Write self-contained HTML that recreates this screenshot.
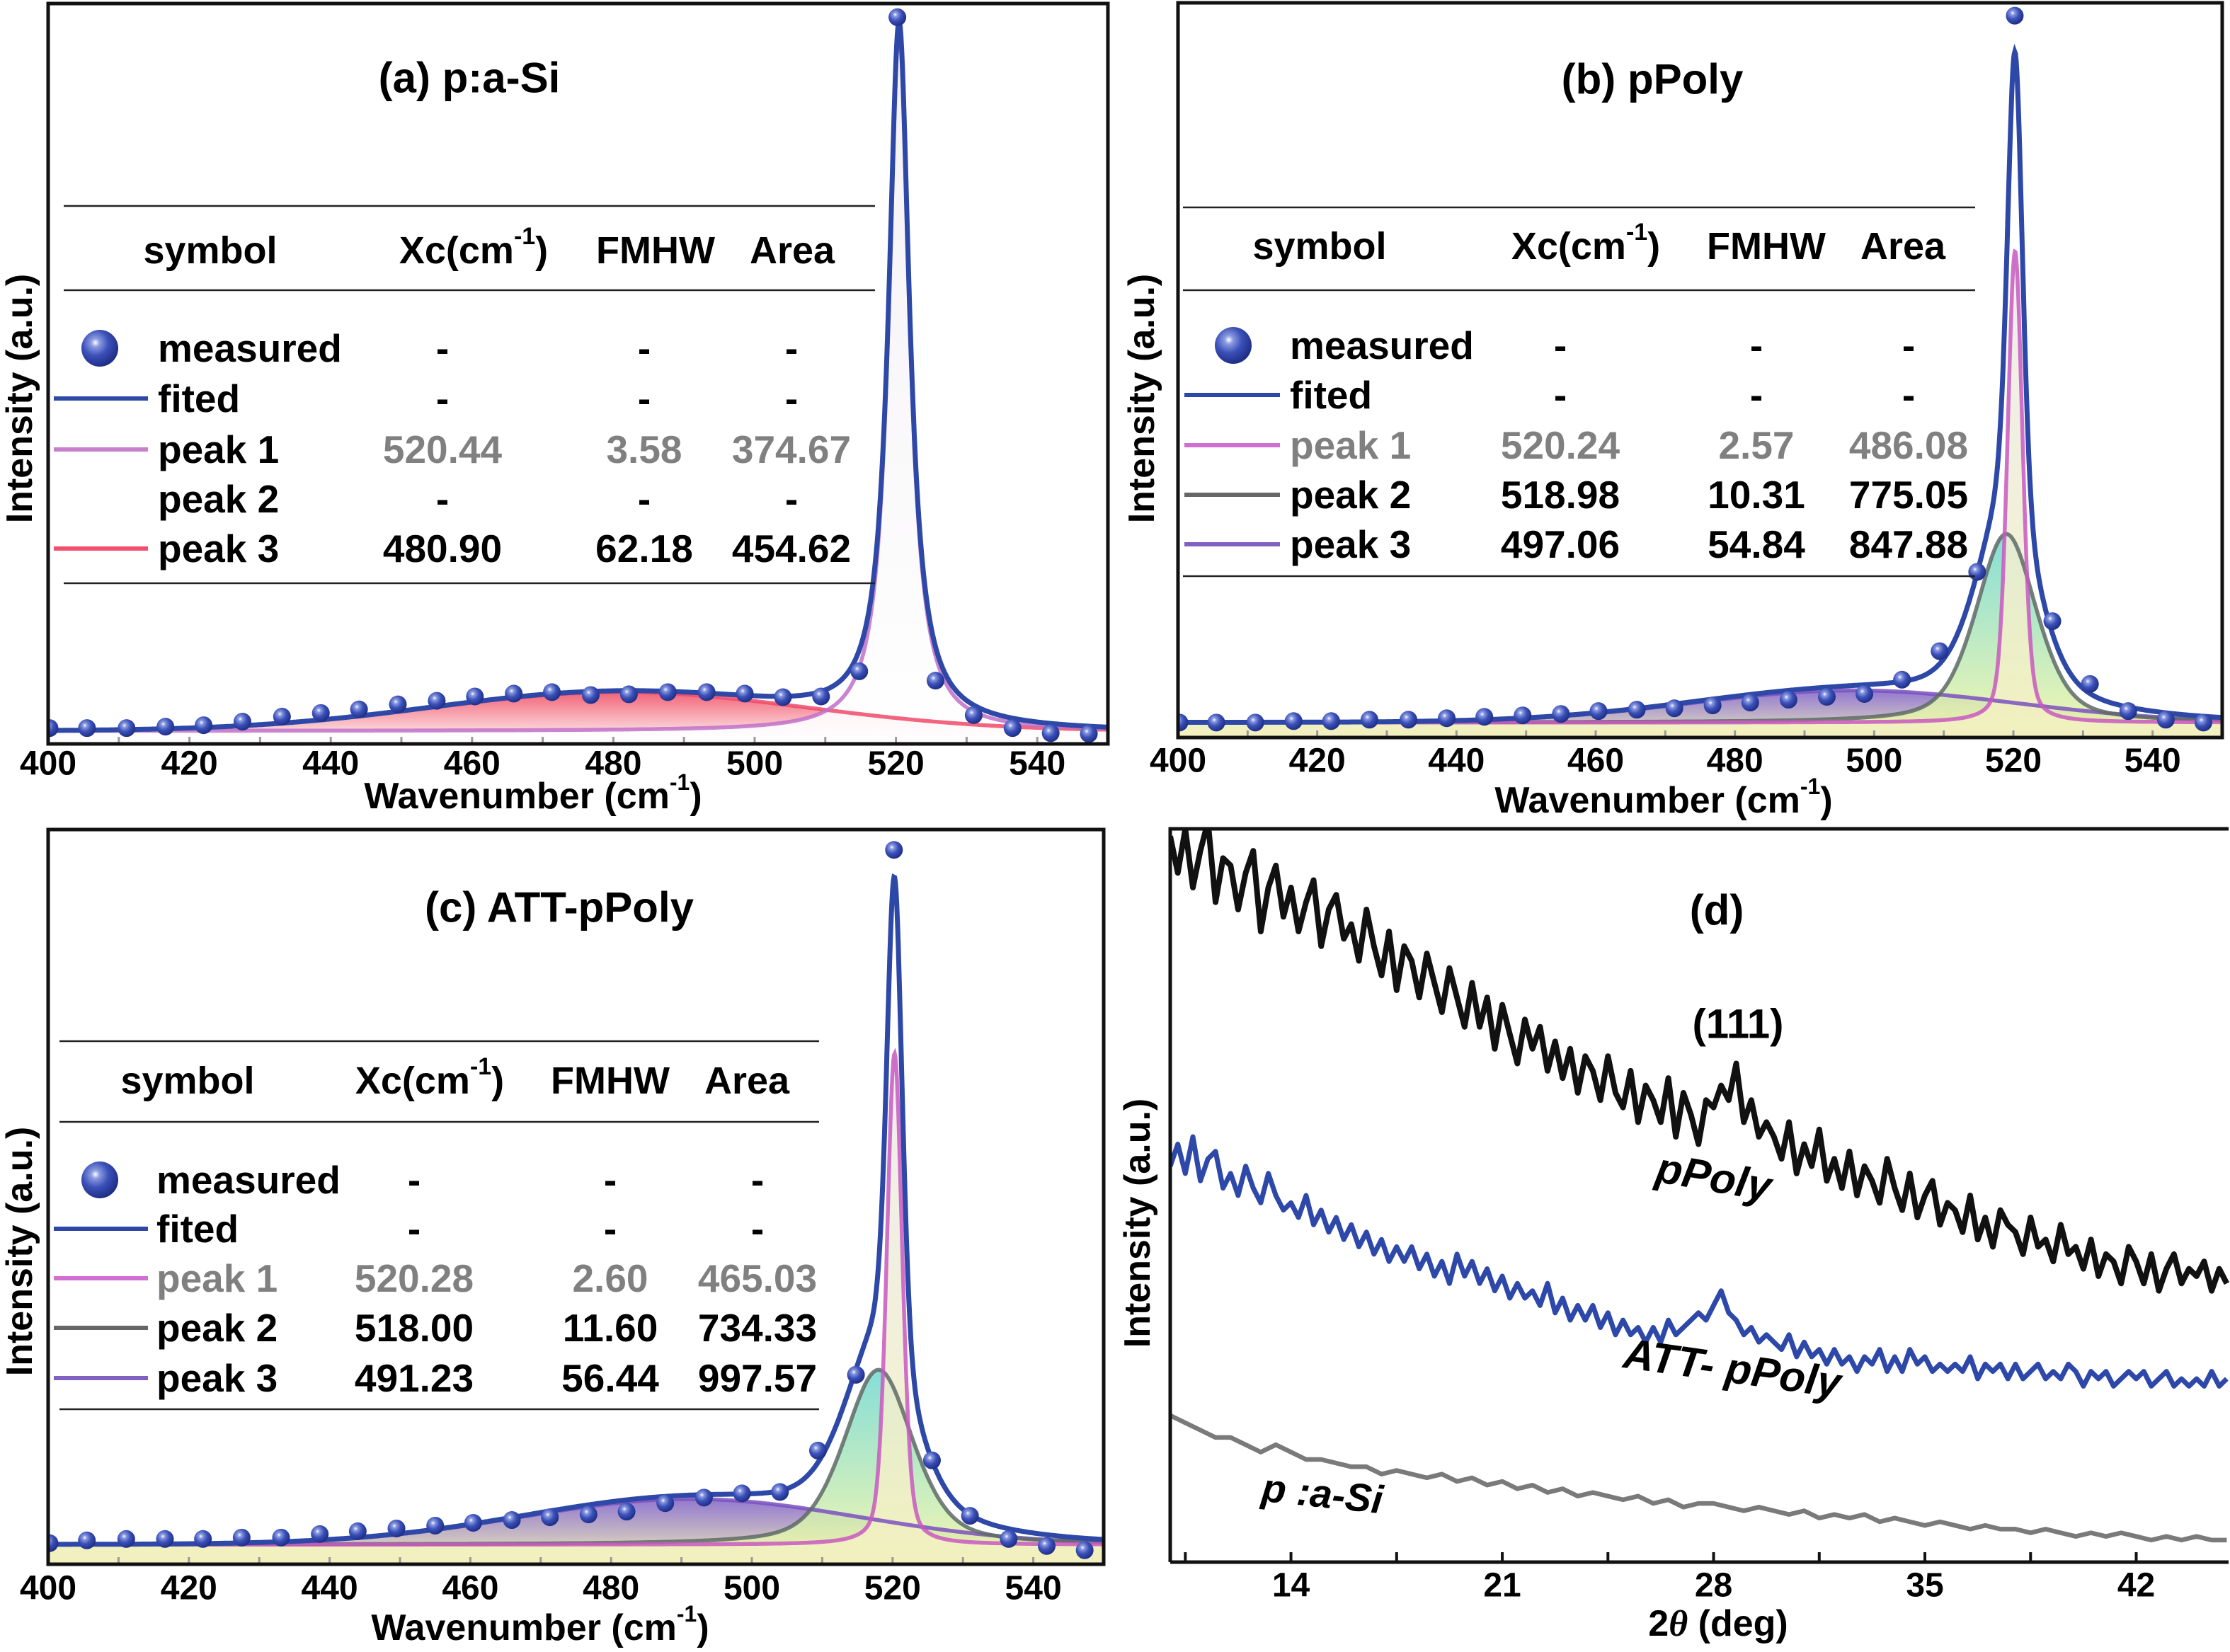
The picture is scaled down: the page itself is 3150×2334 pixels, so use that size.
<!DOCTYPE html>
<html><head><meta charset="utf-8"><title>Raman and XRD spectra</title>
<style>
html,body{margin:0;padding:0;background:#fff;}
svg{display:block;font-family:"Liberation Sans",Arial,sans-serif;font-weight:bold;}
</style></head>
<body>
<svg id="fig" width="3150" height="2334" viewBox="0 0 3150 2334" xmlns="http://www.w3.org/2000/svg">
<defs>
<radialGradient id="ball" cx="0.38" cy="0.35" r="0.65">
<stop offset="0" stop-color="#ffffff"/><stop offset="0.18" stop-color="#8a9ae0"/><stop offset="0.55" stop-color="#3b50b8"/><stop offset="1" stop-color="#1f2f88"/>
</radialGradient>
</defs>
</svg>
<script>
// ---- Raman data (normalized intensity) ----
const ramanX = [400.2,405.5,411.1,416.6,422.0,427.5,433.1,438.6,444.0,449.5,455.0,460.4,465.9,471.3,476.8,482.2,487.7,493.2,498.6,504.0,509.4,514.8,520.2,525.6,531.0,536.5,541.9,547.3];
const measuredA = [0.011,0.011,0.011,0.013,0.015,0.020,0.027,0.032,0.037,0.044,0.049,0.055,0.059,0.061,0.057,0.058,0.061,0.061,0.059,0.054,0.055,0.090,1.000,0.077,0.029,0.011,0.004,0.003];
const measuredB = [0.010,0.010,0.010,0.012,0.012,0.014,0.014,0.016,0.018,0.020,0.022,0.026,0.028,0.030,0.034,0.038,0.042,0.046,0.050,0.070,0.110,0.221,1.000,0.152,0.064,0.026,0.014,0.010];
const measuredC = [0.012,0.016,0.018,0.018,0.018,0.020,0.020,0.025,0.029,0.033,0.037,0.041,0.045,0.049,0.053,0.057,0.069,0.077,0.083,0.085,0.144,0.252,1.000,0.130,0.051,0.018,0.008,0.002];
const peakCentersA = [520.44, 480.90];
const peakFwhmA = [3.58, 62.18];
const peakAmpA = [0.97, 0.054];
const peakCentersB = [520.24, 518.98, 497.06];
const peakFwhmB = [2.57, 10.31, 54.84];
const peakAmpB = [0.66, 0.264, 0.045];
const peakCentersC = [520.28, 518.00, 491.23];
const peakFwhmC = [2.60, 11.60, 56.44];
const peakAmpC = [0.70, 0.249, 0.065];
const ramanTicks = [400,420,440,460,480,500,520,540];
// ---- XRD data ----
const xrdStart = 10, xrdStep = 0.25, grayStep = 0.5;
const xrdPPoly = [99,94,100,92,97,101,90,96, 95,89,94,97,86,92,95,88, 92,86,90,93,84,89,91,85, 87,82,89,84,80,86,78,84, 82,77,83,79,75,81,77,73, 79,73,77,70,76,72,68,74, 70,73,67,71,66,70,64,69, 67,63,69,64,62,67,60,65, 63,60,66,58,64,61,57,63, 62,65,63,68,60,63,58,60, 58,55,60,53,57,54,59,52, 55,51,56,50,54,52,49,55, 51,48,53,47,50,52,46,49, 48,45,50,44,47,43,48,46, 45,42,47,43,44,41,46,42, 43,40,44,39,42,41,38,43, 41,38,42,37,40,42,38,40, 39,41,37,40,38];
const xrdATT = [54,57,53,58,52,55,56,51, 53,50,54,51,49,53,50,48, 49,47,50,46,48,45,47,44, 46,43,45,42,44,41,43,41, 43,40,42,39,41,38,42,39, 41,38,40,37,39,36,38,36, 37,35,38,34,36,33,35,33, 35,32,34,31,33,31,32,30, 32,30,33,31,32,33,34,33, 35,37,34,33,31,32,30,31, 30,29,31,28,30,28,29,27, 29,27,28,26,28,27,29,26, 28,26,29,27,28,26,27,26, 27,26,28,25,27,26,27,25, 27,25,26,27,25,26,25,27, 26,24,26,25,26,24,25,26, 25,26,24,25,26,24,25,24, 25,24,26,24,25];
const xrdASi = [20,19,18,17,17,16,15,16, 15,14,14,13.5,13,13,12,12.5, 12,11.5,12,11,11.5,10.5,11,10, 10.5,9.5,10,9,9.5,9,8.5,9, 8,8.5,7.5,8,8,7.5,7,7.5, 7,6.5,7,6,6.5,6,6.5,5.5, 6,5.5,5,5.5,5,4.5,5,4.5, 4.5,4,4.5,4,3.5,4,3.5,4, 3.5,3,3.5,3,3.5,3,3.0];
const xrdTicks = [14,21,28,35,42];

const NS = "http://www.w3.org/2000/svg";
const svg = document.getElementById('fig');
function mk(tag, attrs, parent){ const e=document.createElementNS(NS,tag); for(const k in attrs) e.setAttribute(k,attrs[k]); (parent||svg).appendChild(e); return e; }
function txt(parent, x, y, s, size, opts){ opts=opts||{}; const t=mk('text',{x:x,y:y,'font-size':size,'text-anchor':opts.anchor||'middle','dominant-baseline':opts.db||'central',fill:opts.fill||'#000'},parent); if(opts.rot!==undefined) t.setAttribute('transform','rotate('+opts.rot+' '+x+' '+y+')'); if(opts.italic) t.setAttribute('font-style','italic'); t.textContent=s; return t; }
function pv(x,c,w,eta){ const d=(x-c)/w; return eta/(1+4*d*d)+(1-eta)*Math.exp(-4*Math.LN2*d*d); }

function ramanPanel(cfg){
  const g = mk('g',{});  
  const sx = v => cfg.x0 + (v-400)/(550-400)*(cfg.x1-cfg.x0);
  const sy = v => cfg.y1 - (v-cfg.ymin)/(cfg.ymax-cfg.ymin)*(cfg.y1-cfg.y0);
  const clipId = 'clip'+cfg.id;
  const cp = mk('clipPath',{id:clipId},g); mk('rect',{x:cfg.x0,y:cfg.y0,width:cfg.x1-cfg.x0,height:cfg.y1-cfg.y0},cp);
  const plot = mk('g',{'clip-path':'url(#'+clipId+')'},g);
  const xs=[]; for(let v=400; v<=550.001; v+=0.1) xs.push(v);
  const comp = i => xs.map(v => cfg.off + cfg.amp[i]*pv(v,cfg.cen[i],cfg.fw[i],cfg.eta[i]));
  for(let i=cfg.cen.length-1;i>=0;i--){
    const ys=comp(i); const top=sy(cfg.off+cfg.amp[i]);
    const gid='gr'+cfg.id+i;
    const lg=mk('linearGradient',{id:gid,gradientUnits:'userSpaceOnUse',x1:0,y1:top,x2:0,y2:cfg.y1},g);
    mk('stop',{offset:0,'stop-color':cfg.fillTop[i],'stop-opacity':0.85},lg);
    mk('stop',{offset:1,'stop-color':cfg.fillBot[i],'stop-opacity':0.9},lg);
    let d='M'+sx(400)+','+cfg.y1; xs.forEach((v,k)=>{d+='L'+sx(v).toFixed(1)+','+sy(ys[k]).toFixed(1);}); d+='L'+sx(550)+','+cfg.y1+'Z';
    const f=mk('path',{d:d,fill:'url(#'+gid+')',stroke:'none'},plot);
    
    
  }
  for(let v=400; v<=550; v+=10){ mk('line',{x1:sx(v),x2:sx(v),y1:cfg.y1,y2:cfg.y1-10,stroke:'#999','stroke-width':3},plot); }
  for(let i=cfg.cen.length-1;i>=0;i--){
    const ys=comp(i); let d=''; xs.forEach((v,k)=>{d+=(k?'L':'M')+sx(v).toFixed(1)+','+sy(ys[k]).toFixed(1);});
    const p=mk('path',{d:d,fill:'none',stroke:cfg.col[i],'stroke-width':5.5,'stroke-opacity':0.85},plot);
    
    
  }
  let d=''; xs.forEach((v,k)=>{ let s=cfg.off; for(let i=0;i<cfg.cen.length;i++) s+=cfg.amp[i]*pv(v,cfg.cen[i],cfg.fw[i],cfg.eta[i]); d+=(k?'L':'M')+sx(v).toFixed(1)+','+sy(s).toFixed(1);});
  const fit=mk('path',{d:d,fill:'none',stroke:'#2e48a8','stroke-width':7},plot);
  
  
  ramanX.forEach((v,k)=>{ const c=mk('circle',{cx:sx(v),cy:sy(cfg.meas[k]),r:12.5,fill:'url(#ball)'},plot);
    
     });
  mk('rect',{x:cfg.x0,y:cfg.y0,width:cfg.x1-cfg.x0,height:cfg.y1-cfg.y0,fill:'none',stroke:'#111','stroke-width':5},g);
  ramanTicks.forEach(v=>{ const t=txt(g,sx(v),cfg.tickY,String(v),48);
    
     });
  const xt=txt(g,cfg.xtX,cfg.xtY,'',52); xt.innerHTML='Wavenumber (cm<tspan dy="-20" font-size="32">-1</tspan><tspan dy="20">)</tspan>';
   
  const yt=txt(g,cfg.ytX,cfg.ytY,'Intensity (a.u.)',52,{rot:-90});
   
  const tt=txt(g,cfg.titleX,cfg.titleY,cfg.title,60);
   
  const tb=mk('g',{},g);  
  cfg.hl.forEach(y=>mk('line',{x1:cfg.tx0,x2:cfg.tx1,y1:y,y2:y,stroke:'#222','stroke-width':2.5},tb));
  txt(tb,cfg.cols[0],cfg.hy,'symbol',54);
  const xh=txt(tb,cfg.cols[1],cfg.hy,'',54); xh.innerHTML='Xc(cm<tspan dy="-20" font-size="34">-1</tspan><tspan dy="20">)</tspan>';
  txt(tb,cfg.cols[2],cfg.hy,'FMHW',54); txt(tb,cfg.cols[3],cfg.hy,'Area',54);
  cfg.rows.forEach((r,i)=>{
    const y=cfg.ry[i];
    if(r.sym==='ball') mk('circle',{cx:cfg.ballX,cy:y,r:26,fill:'url(#ball)'},tb);
    else if(r.sym) mk('line',{x1:cfg.lx0,x2:cfg.lx1,y1:y,y2:y,stroke:r.sym,'stroke-width':6},tb);
    txt(tb,cfg.labX,y,r.label,55,{anchor:'start',fill:r.lc||'#000'});
    r.vals.forEach((v,j)=>txt(tb,cfg.vx[j],y,v,55,{fill:r.vc||'#000'}));
  });
}

ramanPanel({id:'a',name:'panel-a-raman',x0:68,x1:1565,y0:5,y1:1051,ymin:-0.011,ymax:1.019,off:0.007,
  cen:peakCentersA,fw:peakFwhmA,amp:peakAmpA,eta:[1,0],labels:['1','3'],meas:measuredA,
  col:['#c070c8','#f04a6a'],fillTop:['#f2eef2','#f04a60'],fillBot:['#ffffff','#ffffff'],
  tickY:1079,xtX:753,xtY:1125,ytX:28,ytY:563,titleX:663,titleY:110,title:'(a) p:a-Si',
  hl:[291,410,824],tx0:90,tx1:1236,hy:354,cols:[297,669,926,1119],ry:[492,563,635,705,775],
  ballX:141,lx0:76,lx1:209,labX:223,vx:[625,910,1118],
  rows:[{sym:'ball',label:'measured',vals:['-','-','-']},{sym:'#2e48a8',label:'fited',vals:['-','-','-']},
    {sym:'#c77fcc',label:'peak 1',vals:['520.44','3.58','374.67'],vc:'#808080'},{sym:null,label:'peak 2',vals:['-','-','-']},
    {sym:'#f0506e',label:'peak 3',vals:['480.90','62.18','454.62']}]});

ramanPanel({id:'b',name:'panel-b-raman',x0:1664,x1:3139,y0:4,y1:1042,ymin:-0.011,ymax:1.018,off:0.01,
  cen:peakCentersB,fw:peakFwhmB,amp:peakAmpB,eta:[0.35,0.45,0],labels:['1','2','3'],meas:measuredB,
  col:['#c858c0','#5e6a66','#7a50c0'],fillTop:['#ececec','#70d8d0','#8060c8'],fillBot:['#f2f0c0','#f4f6a8','#e8e6b8'],
  tickY:1075,xtX:2350,xtY:1131,ytX:1613,ytY:563,titleX:2334,titleY:112,title:'(b) pPoly',
  hl:[293,410,814],tx0:1671,tx1:2790,hy:348,cols:[1864,2240,2495,2688],ry:[488,558,629,699,769],
  ballX:1742,lx0:1673,lx1:1808,labX:1822,vx:[2204,2481,2696],
  rows:[{sym:'ball',label:'measured',vals:['-','-','-']},{sym:'#2e48a8',label:'fited',vals:['-','-','-']},
    {sym:'#d070d0',label:'peak 1',vals:['520.24','2.57','486.08'],vc:'#808080',lc:'#808080'},{sym:'#666',label:'peak 2',vals:['518.98','10.31','775.05']},
    {sym:'#8060c0',label:'peak 3',vals:['497.06','54.84','847.88']}]});

ramanPanel({id:'c',name:'panel-c-raman',x0:68,x1:1559,y0:1172,y1:2210,ymin:-0.018,ymax:1.029,off:0.01,
  cen:peakCentersC,fw:peakFwhmC,amp:peakAmpC,eta:[0.35,0.45,0],labels:['1','2','3'],meas:measuredC,
  col:['#c858c0','#5e6a66','#7a50c0'],fillTop:['#ececec','#70d8d0','#8060c8'],fillBot:['#f2f0c0','#f4f6a8','#f0f0b0'],
  tickY:2244,xtX:763,xtY:2300,ytX:28,ytY:1768,titleX:790,titleY:1282,title:'(c) ATT-pPoly',
  hl:[1471,1585,1991],tx0:84,tx1:1157,hy:1527,cols:[265,607,862,1055],ry:[1667,1736,1806,1876,1947],
  ballX:141,lx0:76,lx1:209,labX:221,vx:[585,862,1070],
  rows:[{sym:'ball',label:'measured',vals:['-','-','-']},{sym:'#2e48a8',label:'fited',vals:['-','-','-']},
    {sym:'#d070d0',label:'peak 1',vals:['520.28','2.60','465.03'],vc:'#808080',lc:'#808080'},{sym:'#666',label:'peak 2',vals:['518.00','11.60','734.33']},
    {sym:'#8060c0',label:'peak 3',vals:['491.23','56.44','997.57']}]});

// ---- Panel d (XRD) ----
(function(){
  const x0=1653,x1=3148,y0=1171,y1=2207, xmin=10, xmax=45.06;
  const g=mk('g',{});  
  const sx=v=>x0+(v-xmin)/(xmax-xmin)*(x1-x0);
  const sy=v=>y1-v/100*(y1-y0);
  const cp=mk('clipPath',{id:'clipd'},g); mk('rect',{x:x0,y:y0,width:x1-x0+2,height:y1-y0},cp);
  const plot=mk('g',{'clip-path':'url(#clipd)'},g);
  function line(arr,step,color,name,w){ let d=''; arr.forEach((v,k)=>{d+=(k?'L':'M')+sx(xrdStart+k*step).toFixed(1)+','+sy(v).toFixed(1);});
    const p=mk('path',{d:d,fill:'none',stroke:color,'stroke-width':w,'stroke-linejoin':'round'},plot);
    
     }
  line(xrdASi,grayStep,'#7a7a7a','p-a-si-xrd-line',6.5);
  line(xrdATT,xrdStep,'#2d48a8','att-ppoly-xrd-line',7);
  line(xrdPPoly,xrdStep,'#111','ppoly-xrd-line',8);
  for(let v=10.5; v<45; v+=3.5){ mk('line',{x1:sx(v),x2:sx(v),y1:y1,y2:y1-14,stroke:'#111','stroke-width':4},g); }
  mk('path',{d:'M'+x0+','+y1+'V'+y0+'H'+x1+'M'+x0+','+y1+'H'+x1,fill:'none',stroke:'#111','stroke-width':5},g);
  xrdTicks.forEach(v=>{ const t=txt(g,sx(v),2240,String(v),48);
    
     });
  const xt=txt(g,2427,2294,'',52); xt.innerHTML='2<tspan font-style="italic" font-family="Liberation Serif">θ</tspan> (deg)';
   
  const yt=txt(g,1607,1728,'Intensity (a.u.)',52,{rot:-90});
   
  const t1=txt(g,2425,1286,'(d)',60);  
  const t2=txt(g,2455,1447,'(111)',58);  
  const l1=txt(g,2421,1663,'pPoly',60,{rot:10,italic:true});  
  const l2=txt(g,2447,1933,'ATT- pPoly',60,{rot:8,italic:true});  
  const l3=txt(g,1868,2110,'p :a-Si',56,{rot:6,italic:true});  
})();
</script>
</body></html>
